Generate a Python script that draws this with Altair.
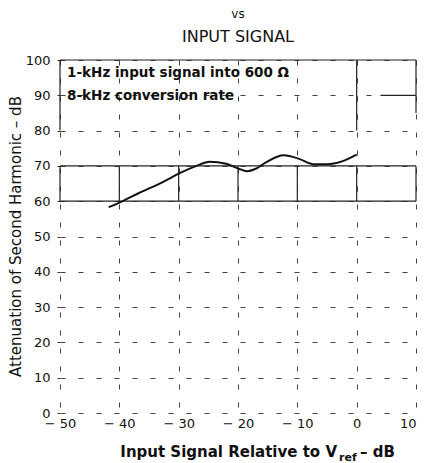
import altair as alt
import pandas as pd

# ---- data ----
x_ticks = [-50, -40, -30, -20, -10, 0, 10]
y_ticks = [0, 10, 20, 30, 40, 50, 60, 70, 80, 90, 100]

curve_x = [-41.8, -40, -36.6, -32.6, -30, -27, -24.8, -22, -20, -18.5, -17, -15.3, -12.3, -9.7, -7.4, -4.7, 0]
curve_y = [58.3, 59.6, 62.4, 65.5, 67.8, 70.0, 71.2, 70.6, 69.3, 68.5, 69.2, 71.0, 73.0, 72.0, 70.5, 70.5, 73.2]

notes = ["1-kHz input signal into 600 Ω", "8-kHz conversion rate"]
note_y = [96.3, 89.8]

W, H = 356, 353
FONT = "DejaVu Sans"
INK = "#111111"

curve = pd.DataFrame({"x": curve_x, "y": curve_y})

# solid (unbroken) portions of the printed grid
seg = []
for yy in (60, 70, 100):
    seg.append({"x": x_ticks[0], "y": yy, "x2": x_ticks[-1], "y2": yy})
for xx in x_ticks:
    seg.append({"x": xx, "y": 60, "x2": xx, "y2": 70})
seg.append({"x": -50, "y": 80, "x2": -50, "y2": 100})
seg.append({"x": 0, "y": 80, "x2": 0, "y2": 100})
seg.append({"x": 10, "y": 85, "x2": 10, "y2": 100})
seg.append({"x": 4, "y": 90, "x2": 10, "y2": 90})
segs = pd.DataFrame(seg)

xscale = alt.Scale(domain=[-50, 10], nice=False, zero=False)
yscale = alt.Scale(domain=[0, 100], nice=False)

xaxis = alt.Axis(
    values=x_ticks, grid=True, gridDash=[5, 13], gridColor="#444444", gridWidth=1,
    domain=False, ticks=False, labelPadding=4, labelFontSize=13, labelFont=FONT,
    labelColor=INK, labelOverlap=False,
    labelExpr="datum.value < 0 ? '\u2212 ' + abs(datum.value) : datum.label",
    labelAlign={"condition": {"test": "datum.value == 10", "value": "right"}, "value": "center"},
    title=None,
)
yaxis = alt.Axis(
    values=y_ticks, grid=True, gridDash=[5, 13], gridColor="#444444", gridWidth=1,
    domain=False, ticks=True, tickSize=3, tickColor="#333333", labelPadding=7,
    labelFontSize=13, labelFont=FONT, labelColor=INK, labelOverlap=False, title=None,
)

X = alt.X("x:Q", scale=xscale, axis=xaxis)
Y = alt.Y("y:Q", scale=yscale, axis=yaxis)

line = alt.Chart(curve).mark_line(
    color=INK, strokeWidth=2, interpolate="monotone"
).encode(x=X, y=Y)

rules = alt.Chart(segs).mark_rule(color="#222222", strokeWidth=1.2).encode(
    x=X, y=Y, x2="x2:Q", y2="y2:Q",
)

note_df = pd.DataFrame({"x": [-48.8, -48.8], "y": note_y, "t": notes})
note_layer = alt.Chart(note_df).mark_text(
    align="left", baseline="middle", font=FONT, fontSize=13.5, fontWeight="bold", color=INK
).encode(x=X, y=Y, text="t:N")


def label(text, x, y, size, weight="normal", align="center", angle=0, baseline="alphabetic"):
    return alt.Chart(alt.Data(values=[{}])).mark_text(
        text=text, align=align, baseline=baseline, font=FONT, fontSize=size,
        fontWeight=weight, color=INK, angle=angle,
    ).encode(x=alt.value(x), y=alt.value(y))


title_vs = label("vs", W / 2, -46, 12, baseline="middle")
title_main = label("INPUT SIGNAL", W / 2, -23, 16, baseline="middle")
ytitle = label("Attenuation of Second Harmonic \u2013 dB", -44, H / 2, 15, angle=270, baseline="middle")
xt1 = label("Input Signal Relative to V", 277, 397, 15, weight="bold", align="right")
xt2 = label("ref", 279, 401, 11, weight="bold", align="left")
xt3 = label("\u2013 dB", 300, 397, 15, weight="bold", align="left")

chart = alt.layer(
    rules, line, note_layer, title_vs, title_main, ytitle, xt1, xt2, xt3
).properties(
    width=W, height=H,
    autosize=alt.AutoSizeParams(type="none"),
    padding={"left": 52, "top": 52, "right": 2, "bottom": 50},
    background="white",
).configure_view(strokeWidth=0)

chart.save("out.html", embed_options={"renderer": "svg", "actions": False})
